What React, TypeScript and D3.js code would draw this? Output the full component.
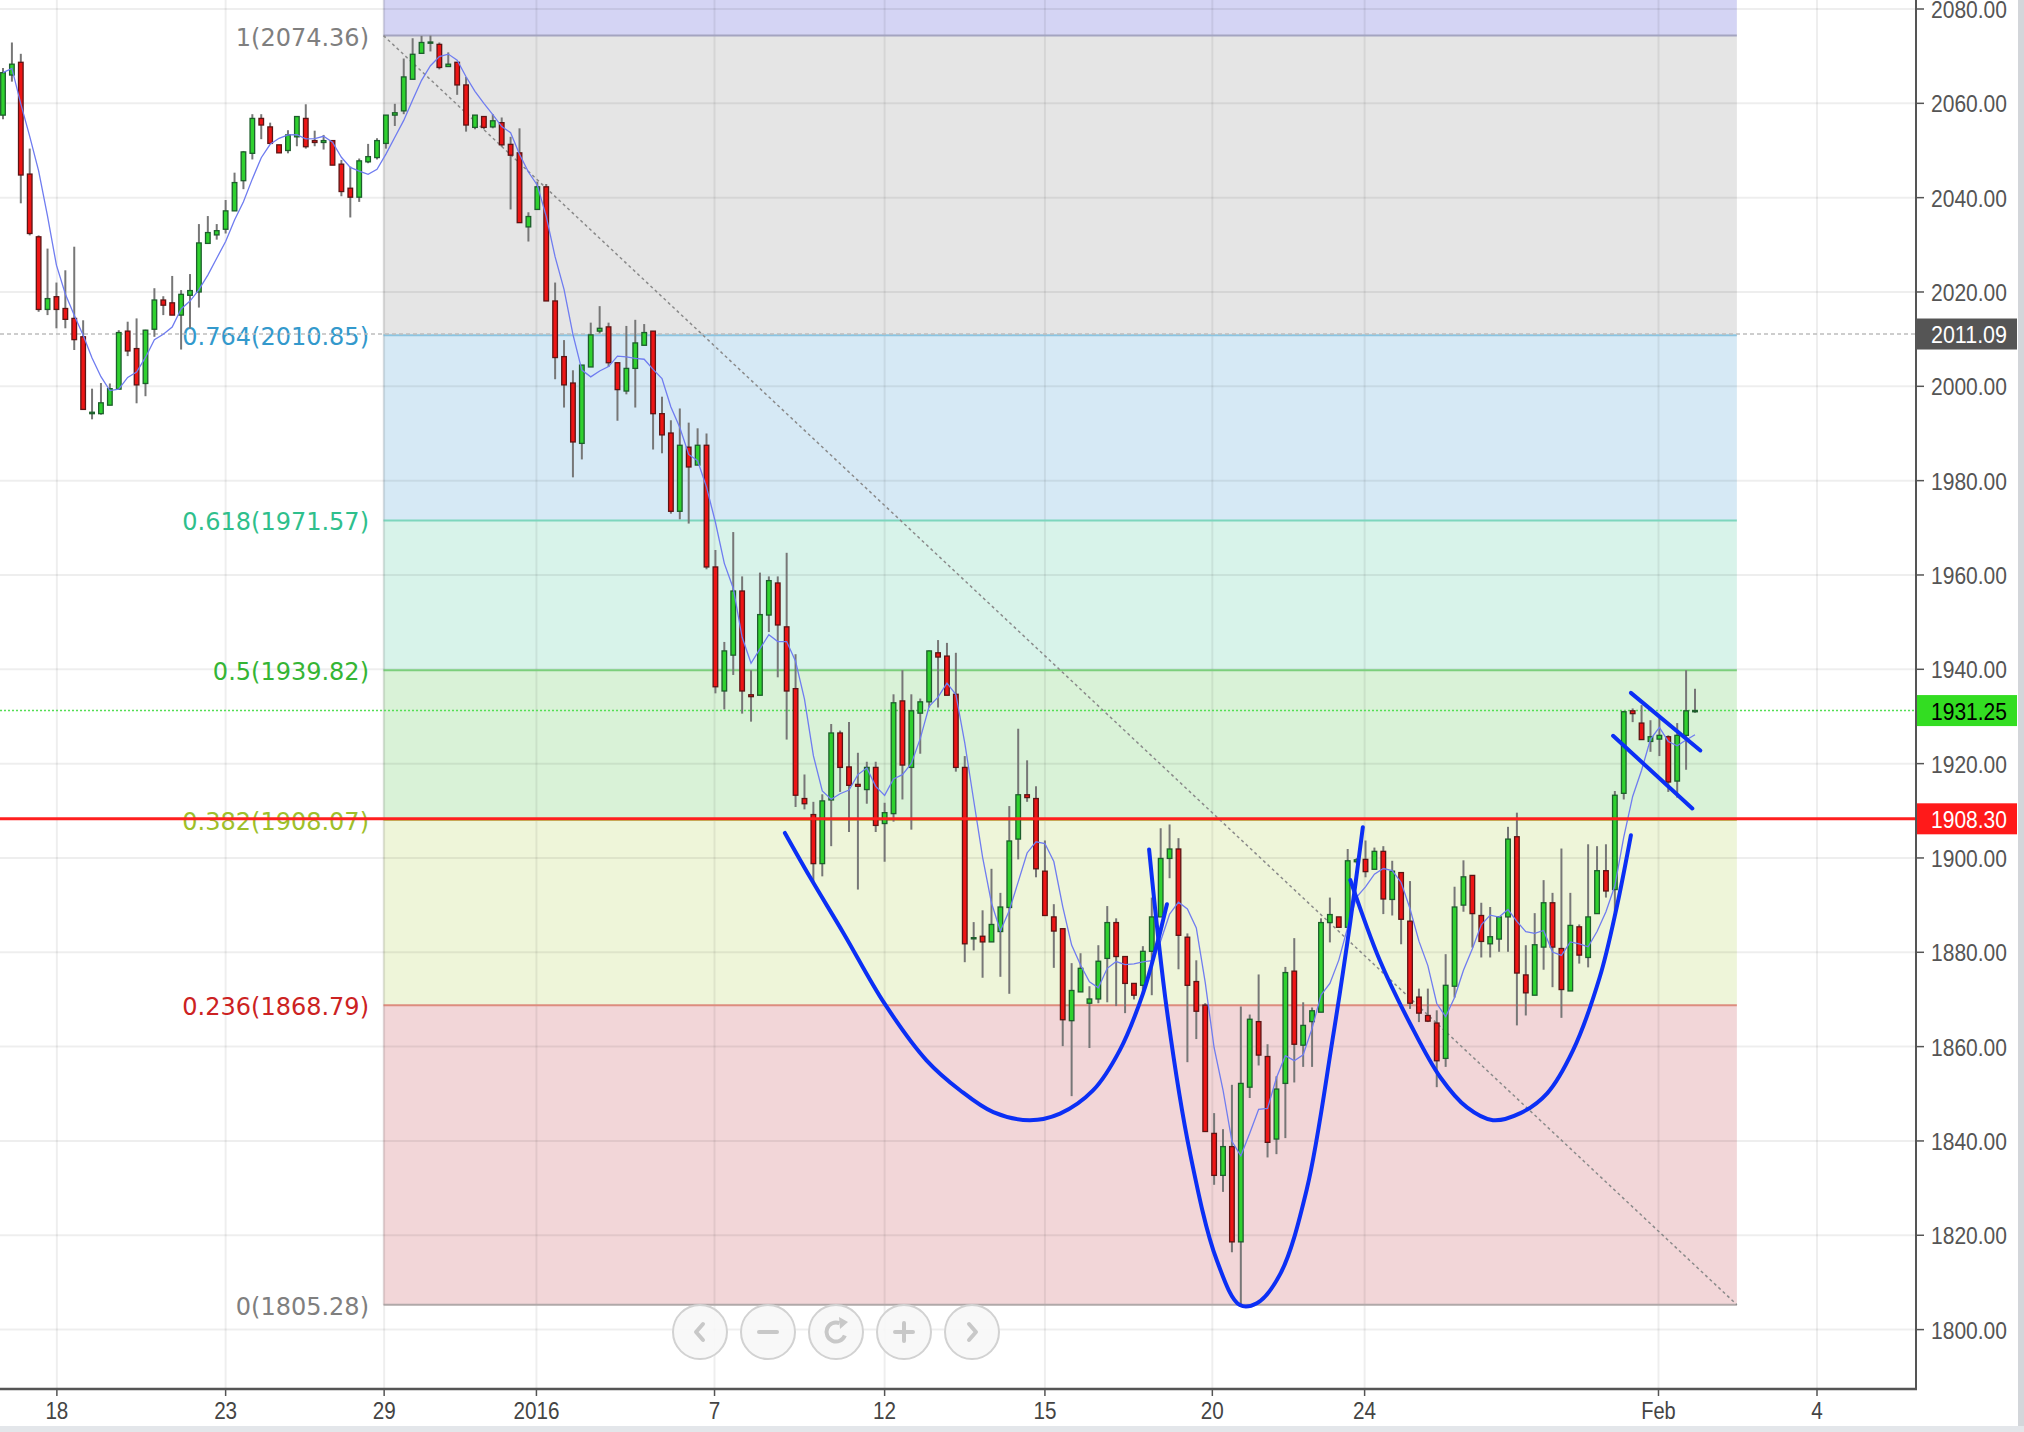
import React, { useRef, useEffect } from 'react';
import * as d3 from 'd3';

// 4h candles, index 0 = first visible bar
const opens = [
  2057.5, 2066.0, 2068.7, 2045.0, 2031.7, 2016.3, 2019.0, 2016.5, 2014.4, 2010.5,
  1994.2, 1994.2, 1996.0, 1999.4, 2011.7, 2008.0, 2000.6, 2012.1, 2018.3, 2017.7,
  2015.1, 2019.3, 2020.0, 2030.3, 2032.1, 2033.3, 2037.2, 2043.6, 2049.4, 2056.8,
  2055.0, 2051.2, 2050.0, 2052.9, 2056.8, 2052.1, 2051.7, 2052.1, 2047.1, 2042.0,
  2040.1, 2047.6, 2048.5, 2051.5, 2057.5, 2058.4, 2065.1, 2070.6, 2072.8, 2072.5,
  2067.8, 2068.7, 2063.9, 2054.9, 2057.2, 2055.0, 2055.9, 2051.3, 2049.5, 2033.8,
  2037.5, 2042.3, 2018.1, 2006.3, 2000.7, 1987.9, 2004.1, 2011.7, 2012.6, 2005.0,
  1999.0, 2003.8, 2008.7, 2011.7, 1994.2, 1990.1, 1973.5, 1987.1, 1983.3, 1987.5,
  1961.7, 1935.4, 1943.0, 1956.6, 1934.6, 1934.5, 1951.5, 1958.3, 1949.0, 1935.9,
  1912.6, 1909.2, 1898.8, 1912.3, 1926.5, 1919.3, 1915.6, 1914.5, 1919.2, 1907.3,
  1909.4, 1933.3, 1919.2, 1930.7, 1933.1, 1943.5, 1942.8, 1934.7, 1919.2, 1882.9,
  1883.4, 1882.2, 1884.4, 1889.5, 1904.0, 1913.4, 1912.6, 1897.2, 1887.5, 1885.0,
  1865.5, 1871.6, 1869.2, 1870.1, 1878.7, 1886.3, 1879.1, 1873.4, 1873.0, 1880.2,
  1887.5, 1899.9, 1901.9, 1883.2, 1873.8, 1868.8, 1841.6, 1832.7, 1838.8, 1818.6,
  1851.4, 1865.3, 1857.9, 1840.4, 1852.2, 1876.0, 1860.3, 1865.3, 1867.3, 1886.3,
  1887.5, 1885.3, 1899.2, 1899.7, 1897.6, 1901.4, 1891.2, 1896.9, 1886.6, 1870.5,
  1866.6, 1865.0, 1857.5, 1872.8, 1890.0, 1896.3, 1887.8, 1881.8, 1882.8, 1887.5,
  1904.5, 1875.2, 1870.9, 1881.1, 1890.5, 1880.8, 1871.8, 1885.4, 1878.9, 1888.2,
  1897.3, 1893.3, 1913.7, 1931.2, 1928.6, 1924.7, 1925.2, 1925.7, 1916.3, 1926.0,
  1931.0,
];
const highs = [
  2067.5, 2072.9, 2070.5, 2050.4, 2032.0, 2029.2, 2022.0, 2024.6, 2029.6, 2014.0,
  1999.5, 2000.7, 2000.6, 2011.9, 2013.7, 2014.4, 2012.0, 2020.8, 2019.1, 2023.4,
  2020.4, 2023.8, 2034.4, 2036.1, 2034.4, 2039.5, 2045.3, 2049.9, 2057.7, 2057.7,
  2055.9, 2051.2, 2054.3, 2057.3, 2059.8, 2054.2, 2053.3, 2052.1, 2048.0, 2046.6,
  2048.3, 2051.4, 2052.6, 2057.5, 2059.9, 2069.5, 2073.8, 2074.3, 2074.36, 2072.9,
  2070.8, 2068.7, 2065.6, 2057.5, 2057.2, 2057.7, 2057.0, 2052.9, 2054.7, 2036.9,
  2043.4, 2042.9, 2022.0, 2009.8, 2003.4, 2004.5, 2013.5, 2017.0, 2013.5, 2005.0,
  2012.8, 2014.1, 2013.2, 2011.7, 1997.8, 1992.8, 1995.3, 1992.3, 1991.1, 1990.0,
  1965.3, 1945.8, 1969.1, 1959.7, 1939.8, 1960.5, 1959.7, 1959.7, 1964.7, 1943.2,
  1917.7, 1911.9, 1913.5, 1928.4, 1927.0, 1928.8, 1922.3, 1920.4, 1920.4, 1911.7,
  1934.7, 1939.8, 1934.7, 1933.8, 1944.0, 1946.2, 1945.6, 1943.5, 1921.6, 1886.4,
  1888.9, 1897.7, 1892.6, 1911.0, 1927.4, 1920.7, 1915.2, 1903.7, 1890.2, 1885.0,
  1877.7, 1879.8, 1872.8, 1881.5, 1889.8, 1887.2, 1879.1, 1873.4, 1881.3, 1891.6,
  1906.3, 1907.1, 1904.2, 1884.0, 1878.3, 1869.2, 1845.9, 1842.5, 1851.9, 1868.5,
  1866.8, 1875.3, 1860.5, 1853.7, 1876.9, 1883.0, 1869.4, 1868.3, 1887.2, 1891.6,
  1887.5, 1901.9, 1900.0, 1903.7, 1902.2, 1902.5, 1899.4, 1896.9, 1895.1, 1872.3,
  1872.3, 1867.7, 1879.6, 1893.9, 1899.5, 1896.3, 1890.5, 1889.6, 1887.6, 1906.6,
  1909.6, 1881.5, 1888.3, 1895.3, 1892.6, 1902.0, 1892.6, 1885.9, 1902.9, 1902.5,
  1902.9, 1914.2, 1931.2, 1931.7, 1932.4, 1929.2, 1930.0, 1926.0, 1928.6, 1939.8,
  1935.9,
];
const lows = [
  2056.6, 2064.6, 2038.8, 2032.0, 2015.8, 2015.1, 2012.3, 2012.3, 2007.7, 1995.1,
  1993.0, 1994.0, 1996.0, 1999.4, 2006.4, 1996.4, 1997.9, 2010.5, 2015.1, 2015.1,
  2007.8, 2012.3, 2016.7, 2030.3, 2031.1, 2032.4, 2037.2, 2041.8, 2048.1, 2052.4,
  2051.5, 2049.5, 2049.4, 2050.9, 2050.4, 2050.9, 2050.2, 2046.9, 2040.3, 2035.8,
  2039.1, 2047.3, 2048.1, 2050.4, 2055.2, 2057.7, 2065.1, 2070.6, 2071.0, 2067.2,
  2067.8, 2061.8, 2054.0, 2054.5, 2054.5, 2054.7, 2050.8, 2037.5, 2034.7, 2030.7,
  2037.5, 2018.1, 2001.5, 1995.5, 1980.7, 1984.5, 2004.1, 2011.2, 2004.1, 1992.7,
  1998.3, 1995.5, 2008.7, 1986.6, 1985.8, 1973.0, 1971.8, 1970.9, 1983.3, 1961.2,
  1934.9, 1931.5, 1938.8, 1930.6, 1928.9, 1934.5, 1947.9, 1938.3, 1925.1, 1910.8,
  1910.3, 1894.6, 1896.1, 1902.5, 1914.0, 1905.5, 1893.3, 1911.5, 1905.5, 1899.2,
  1907.7, 1912.4, 1906.0, 1922.1, 1931.9, 1931.9, 1934.5, 1918.3, 1877.9, 1880.4,
  1874.6, 1882.2, 1874.8, 1871.2, 1899.7, 1911.9, 1895.9, 1887.8, 1876.7, 1860.1,
  1849.5, 1871.6, 1859.7, 1869.2, 1869.4, 1868.6, 1867.1, 1870.0, 1870.9, 1870.9,
  1887.5, 1895.7, 1876.4, 1856.7, 1861.6, 1842.0, 1830.7, 1829.2, 1816.4, 1805.28,
  1849.1, 1856.0, 1836.5, 1837.2, 1840.6, 1852.4, 1855.7, 1855.7, 1867.3, 1882.1,
  1885.3, 1885.3, 1898.8, 1895.9, 1897.6, 1888.1, 1887.8, 1881.7, 1868.0, 1865.2,
  1865.2, 1851.4, 1855.7, 1870.4, 1888.6, 1881.0, 1878.9, 1878.9, 1880.1, 1880.1,
  1864.5, 1866.6, 1870.9, 1876.3, 1872.6, 1866.1, 1871.8, 1877.6, 1876.8, 1888.2,
  1891.6, 1888.6, 1912.4, 1928.8, 1925.1, 1922.5, 1921.6, 1914.0, 1912.8, 1918.7,
  1930.8,
];
const closes = [
  2066.5, 2068.3, 2044.8, 2032.4, 2016.3, 2018.6, 2016.3, 2014.2, 2009.9, 1995.1,
  1994.5, 1996.5, 1999.5, 2011.4, 2007.5, 2000.3, 2011.9, 2018.3, 2017.2, 2015.1,
  2019.5, 2020.3, 2030.4, 2032.6, 2033.0, 2037.2, 2043.2, 2049.7, 2056.8, 2055.4,
  2051.5, 2049.5, 2053.3, 2057.2, 2050.8, 2051.7, 2052.1, 2046.9, 2041.3, 2040.1,
  2047.8, 2048.7, 2052.1, 2057.5, 2058.0, 2065.6, 2070.4, 2072.9, 2073.0, 2067.6,
  2068.3, 2063.9, 2055.4, 2057.5, 2054.9, 2056.3, 2051.2, 2049.0, 2034.7, 2036.0,
  2042.3, 2018.1, 2006.1, 2000.3, 1988.2, 2004.5, 2010.9, 2012.3, 2005.0, 1999.3,
  2003.8, 2009.2, 2011.4, 1994.2, 1989.7, 1973.5, 1987.5, 1982.9, 1987.5, 1961.7,
  1936.3, 1943.9, 1956.6, 1935.4, 1934.2, 1951.6, 1958.8, 1949.4, 1935.4, 1913.3,
  1911.5, 1898.8, 1912.1, 1926.5, 1919.2, 1915.4, 1915.2, 1919.2, 1906.9, 1909.6,
  1932.9, 1919.7, 1931.2, 1933.1, 1943.9, 1942.6, 1934.5, 1919.2, 1881.8, 1883.1,
  1882.2, 1885.9, 1889.6, 1903.6, 1913.4, 1912.8, 1897.7, 1887.8, 1884.5, 1865.7,
  1871.9, 1876.6, 1870.1, 1878.1, 1886.3, 1879.1, 1873.4, 1870.9, 1880.2, 1887.5,
  1899.9, 1901.9, 1883.6, 1873.0, 1867.5, 1842.0, 1832.7, 1838.8, 1818.6, 1852.2,
  1865.8, 1858.2, 1839.7, 1851.0, 1875.7, 1860.5, 1864.5, 1867.6, 1886.3, 1888.0,
  1885.3, 1899.4, 1899.6, 1897.1, 1901.4, 1891.3, 1897.2, 1887.0, 1869.2, 1867.1,
  1865.4, 1857.0, 1873.0, 1889.6, 1896.0, 1888.2, 1882.3, 1883.3, 1887.5, 1904.0,
  1875.6, 1871.4, 1881.6, 1890.5, 1881.1, 1872.1, 1885.7, 1879.4, 1887.5, 1897.3,
  1893.0, 1913.3, 1931.0, 1930.6, 1925.1, 1925.7, 1926.0, 1916.1, 1926.0, 1931.2,
  1931.25,
];

// x axis: bar index where each label sits
const xTickIndex = [6.05, 25, 42.8, 59.9, 79.9, 99, 117, 135.8, 152.9, 185.9, 203.7];
const xTickLabels = ['18', '23', '29', '2016', '7', '12', '15', '20', '24', 'Feb', '4'];
const yTicks = d3.range(1800, 2081, 20);

// fibonacci retracement
const fibRatios = ['1', '0.764', '0.618', '0.5', '0.382', '0.236', '0'];
const fibPrices = [2074.36, 2010.85, 1971.57, 1939.82, 1908.07, 1868.79, 1805.28];
const fibStartIndex = 42.73;
const fibEndIndex = 194.7;
const fibBandColors = ['#d4d4f4', '#e5e5e5', '#d6e9f5', '#d8f3ea', '#d9f2d7', '#eef5d9', '#f2d6d8'];
const fibLineColors = ['#a4a4c0', '#8cc4e0', '#7dd6bd', '#7ccf7c', '#b5d36a', '#dd8c7e', '#b0a8a8'];
const fibTextColors = ['#7f7f7f', '#3399cc', '#2fbf8c', '#35b535', '#9ebf2a', '#cc2222', '#7f7f7f'];

// horizontal price markers
const tagPrices = [2011.09, 1931.25, 1908.3];
const tagFills = ['#555555', '#33dd22', '#ff1a1a'];
const tagTextColors = ['#ffffff', '#000000', '#ffffff'];

// hand drawn pattern, [bar index, price]
const leftShoulder: [number, number][] = [
  [87.8, 1905.3], [90.6, 1896.0], [94.4, 1884.0], [99.0, 1869.1], [103.7, 1857.1],
  [107.5, 1850.7], [111.2, 1846.1], [115.3, 1844.4], [118.7, 1845.8], [122.4, 1850.7],
  [125.4, 1859.2], [128.0, 1871.2], [129.6, 1881.8], [130.7, 1890.2],
];
const headCurve: [number, number][] = [
  [128.7, 1901.8], [130.7, 1867.7], [133.3, 1837.4], [136.3, 1814.7], [138.9, 1805.2],
  [140.8, 1805.6], [143.4, 1811.7], [146.4, 1829.7], [149.3, 1861.5], [151.3, 1886.6], [152.7, 1906.5],
];
const rightShoulder: [number, number][] = [
  [151.3, 1895.3], [154.6, 1878.3], [158.0, 1864.9], [161.4, 1853.5], [164.4, 1847.1], [167.3, 1844.4],
  [170.4, 1845.9], [173.4, 1850.1], [176.3, 1859.2], [179.3, 1874.7], [181.2, 1889.5], [182.8, 1904.8],
];
const flagUpper: [number, number][] = [[182.8, 1935.0], [190.6, 1922.8]];
const flagLower: [number, number][] = [[180.8, 1925.9], [189.7, 1910.5]];

const W = 2024;
const H = 1432;
const plotRight = 1916;
const plotBottom = 1389;

const App: React.FC = () => {
  const svgRef = useRef<SVGSVGElement>(null);

  useEffect(() => {
    document.body.style.margin = '0';
    if (!svgRef.current) return;

    const svg = d3.select(svgRef.current);
    svg.selectAll('*').remove();

    const x = d3.scaleLinear().domain([0, 190]).range([3, 1695]);
    const y = d3.scaleLinear().domain([1800, 2080]).range([1329.6, 9]);

    const candles = opens.map((o, i) => ({ i, o, h: highs[i], l: lows[i], c: closes[i] }));
    const ma = closes.map((_, i) => d3.mean(closes.slice(Math.max(0, i - 4), i + 1)) as number);

    svg.append('rect').attr('width', W).attr('height', H).attr('fill', '#ffffff');

    // fib bands
    const fx0 = x(fibStartIndex);
    const fx1 = x(fibEndIndex);
    fibBandColors.forEach((col, k) => {
      const top = k === 0 ? 0 : y(fibPrices[k - 1]);
      const bot = y(fibPrices[k]);
      svg.append('rect')
        .attr('x', fx0).attr('y', top)
        .attr('width', fx1 - fx0).attr('height', bot - top)
        .attr('fill', col);
    });

    // grid
    const grid = svg.append('g').attr('stroke', 'rgba(0,0,0,0.065)').attr('stroke-width', 2);
    yTicks.forEach((t) => {
      grid.append('line').attr('x1', 0).attr('x2', plotRight).attr('y1', y(t)).attr('y2', y(t));
    });
    xTickIndex.forEach((t) => {
      grid.append('line').attr('x1', x(t)).attr('x2', x(t)).attr('y1', 0).attr('y2', plotBottom);
    });

    // fib level lines and labels
    fibPrices.forEach((p, k) => {
      svg.append('line')
        .attr('x1', fx0).attr('x2', fx1).attr('y1', y(p)).attr('y2', y(p))
        .attr('stroke', fibLineColors[k]).attr('stroke-width', 2);
      svg.append('text')
        .attr('x', 369).attr('y', y(p) + 10)
        .attr('text-anchor', 'end')
        .attr('font-family', '"DejaVu Sans", Verdana, sans-serif')
        .attr('font-size', 24)
        .attr('fill', fibTextColors[k])
        .text(`${fibRatios[k]}(${p.toFixed(2)})`);
    });
    // left edge of fib box
    svg.append('line')
      .attr('x1', fx0).attr('x2', fx0).attr('y1', 0).attr('y2', y(fibPrices[6]))
      .attr('stroke', 'rgba(0,0,0,0.06)').attr('stroke-width', 2);

    // fib trend line
    svg.append('line')
      .attr('x1', fx0).attr('y1', y(fibPrices[0]))
      .attr('x2', fx1).attr('y2', y(fibPrices[6]))
      .attr('stroke', '#8a8a8a').attr('stroke-width', 1.5)
      .attr('stroke-dasharray', '3,3');

    // dotted price lines
    svg.append('line')
      .attr('x1', 0).attr('x2', plotRight).attr('y1', y(tagPrices[0])).attr('y2', y(tagPrices[0]))
      .attr('stroke', '#bdbdbd').attr('stroke-width', 1.5).attr('stroke-dasharray', '4,3');
    svg.append('line')
      .attr('x1', 0).attr('x2', plotRight).attr('y1', y(tagPrices[1])).attr('y2', y(tagPrices[1]))
      .attr('stroke', '#55dd55').attr('stroke-width', 1.5).attr('stroke-dasharray', '2,2');

    // candles
    const cg = svg.append('g');
    cg.selectAll('line.wick')
      .data(candles)
      .enter()
      .append('line')
      .attr('class', 'wick')
      .attr('x1', (d) => x(d.i)).attr('x2', (d) => x(d.i))
      .attr('y1', (d) => y(d.h)).attr('y2', (d) => y(d.l))
      .attr('stroke', '#777777').attr('stroke-width', 2);
    cg.selectAll('rect.body')
      .data(candles)
      .enter()
      .append('rect')
      .attr('class', 'body')
      .attr('x', (d) => x(d.i) - 2.3)
      .attr('width', 4.6)
      .attr('y', (d) => y(Math.max(d.o, d.c)))
      .attr('height', (d) => Math.max(1.2, Math.abs(y(d.o) - y(d.c))))
      .attr('fill', (d) => (d.c >= d.o ? '#2fd12f' : '#ee1515'))
      .attr('stroke', (d) => (d.c >= d.o ? '#1d5e2c' : '#5c1414'))
      .attr('stroke-width', 1.3);

    // moving average
    const maLine = d3.line<number>().x((_, i) => x(i)).y((d) => y(d));
    svg.append('path')
      .attr('d', maLine(ma) as string)
      .attr('fill', 'none')
      .attr('stroke', '#6f7cf0')
      .attr('stroke-width', 1.3);

    // red support line
    svg.append('line')
      .attr('x1', 0).attr('x2', plotRight).attr('y1', y(tagPrices[2])).attr('y2', y(tagPrices[2]))
      .attr('stroke', '#ff2020').attr('stroke-width', 3);

    // drawings
    const curve = d3.line<[number, number]>()
      .x((d) => x(d[0])).y((d) => y(d[1]))
      .curve(d3.curveCatmullRom.alpha(0.5));
    [leftShoulder, headCurve, rightShoulder, flagUpper, flagLower].forEach((pts) => {
      svg.append('path')
        .attr('d', curve(pts) as string)
        .attr('fill', 'none')
        .attr('stroke', '#0b2ff5')
        .attr('stroke-width', 4)
        .attr('stroke-linecap', 'round');
    });

    // axes
    svg.append('line')
      .attr('x1', 0).attr('x2', plotRight + 1).attr('y1', plotBottom).attr('y2', plotBottom)
      .attr('stroke', '#555555').attr('stroke-width', 2.5);
    svg.append('line')
      .attr('x1', plotRight).attr('x2', plotRight).attr('y1', 0).attr('y2', plotBottom)
      .attr('stroke', '#555555').attr('stroke-width', 2);

    const axisFont = '"Liberation Sans", Arial, sans-serif';
    xTickIndex.forEach((t, k) => {
      svg.append('line')
        .attr('x1', x(t)).attr('x2', x(t)).attr('y1', plotBottom).attr('y2', plotBottom + 7)
        .attr('stroke', '#555555').attr('stroke-width', 1.5);
      svg.append('text')
        .attr('x', x(t)).attr('y', 1418.5)
        .attr('text-anchor', 'middle')
        .attr('font-family', axisFont)
        .attr('font-size', 23)
        .attr('fill', '#444444')
        .attr('textLength', xTickLabels[k].length * 11.5)
        .attr('lengthAdjust', 'spacingAndGlyphs')
        .text(xTickLabels[k]);
    });
    yTicks.forEach((t) => {
      svg.append('line')
        .attr('x1', plotRight).attr('x2', plotRight + 8).attr('y1', y(t)).attr('y2', y(t))
        .attr('stroke', '#555555').attr('stroke-width', 1.5);
      svg.append('text')
        .attr('x', 1931).attr('y', y(t) + 9)
        .attr('font-family', axisFont)
        .attr('font-size', 24)
        .attr('fill', '#555555')
        .attr('textLength', 76)
        .attr('lengthAdjust', 'spacingAndGlyphs')
        .text(t.toFixed(2));
    });

    // price tags
    tagPrices.forEach((p, k) => {
      svg.append('rect')
        .attr('x', plotRight + 1).attr('y', y(p) - 15.5)
        .attr('width', 100).attr('height', 31)
        .attr('fill', tagFills[k]);
      svg.append('text')
        .attr('x', 1931).attr('y', y(p) + 9)
        .attr('font-family', axisFont)
        .attr('font-size', 24)
        .attr('fill', tagTextColors[k])
        .attr('textLength', 76)
        .attr('lengthAdjust', 'spacingAndGlyphs')
        .text(p.toFixed(2));
    });

    // frame strips
    svg.append('rect').attr('x', 2018).attr('y', 0).attr('width', 6).attr('height', H).attr('fill', '#d3d6da');
    svg.append('rect').attr('x', 0).attr('y', 1426).attr('width', W).attr('height', 6).attr('fill', '#e3e6ea');

    // navigation buttons
    const nav = svg.append('g');
    const cy = 1332;
    const cxs = [700, 768, 836, 904, 972];
    cxs.forEach((cx) => {
      nav.append('circle')
        .attr('cx', cx).attr('cy', cy).attr('r', 27)
        .attr('fill', 'rgba(247,247,247,0.9)')
        .attr('stroke', '#d2d2d2').attr('stroke-width', 2);
    });
    const ic = nav.append('g')
      .attr('stroke', '#c8c8c8').attr('stroke-width', 4).attr('fill', 'none')
      .attr('stroke-linecap', 'round').attr('stroke-linejoin', 'round');
    ic.append('path').attr('d', `M${cxs[0] + 3},${cy - 8} L${cxs[0] - 4},${cy} L${cxs[0] + 3},${cy + 8}`);
    ic.append('path').attr('d', `M${cxs[1] - 9},${cy} L${cxs[1] + 9},${cy}`);
    ic.append('path').attr('d', `M${cxs[3] - 9},${cy} L${cxs[3] + 9},${cy} M${cxs[3]},${cy - 9} L${cxs[3]},${cy + 9}`);
    ic.append('path').attr('d', `M${cxs[4] - 3},${cy - 8} L${cxs[4] + 4},${cy} L${cxs[4] - 3},${cy + 8}`);
    const arc = d3.arc<any>()({ innerRadius: 7.5, outerRadius: 11.5, startAngle: Math.PI * 0.62, endAngle: Math.PI * 2.12 });
    nav.append('path')
      .attr('d', arc as string)
      .attr('transform', `translate(${cxs[2]},${cy})`)
      .attr('fill', '#c8c8c8');
    nav.append('path')
      .attr('d', `M${cxs[2] + 3},${cy - 15} L${cxs[2] + 12},${cy - 10} L${cxs[2] + 4},${cy - 3} Z`)
      .attr('fill', '#c8c8c8');
  }, []);

  return <svg ref={svgRef} width={W} height={H} style={{ display: 'block' }} />;
};

export default App;
